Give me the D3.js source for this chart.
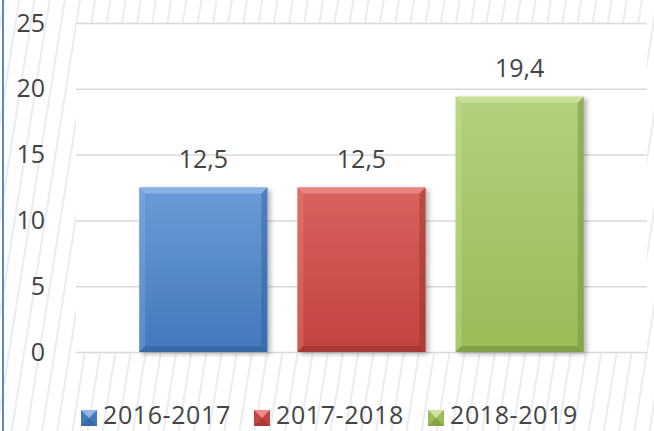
<!DOCTYPE html>
<html>
<head>
<meta charset="utf-8">
<script src="https://cdn.jsdelivr.net/npm/d3@7"></script>
<style>
  html, body { margin: 0; padding: 0; background: #fff; }
  svg { display: block; font-family: "Open Sans", sans-serif; }
</style>
</head>
<body>
<svg id="chart"></svg>
<script>
const W = 654, H = 431;
const margin = { top: 23, right: 7, bottom: 79, left: 76 };
const innerW = W - margin.left - margin.right;
const innerH = H - margin.top - margin.bottom;

// data
const seasons = ["2016-2017", "2017-2018", "2018-2019"];
const values = [12.5, 12.5, 19.4];
const yTicks = [0, 5, 10, 15, 20, 25];

const COLORS = {
    "2016-2017": { top: "#6a9bd8", bottom: "#4478bb", light: "#8fb6e8", dark: "#2f5e98" },
    "2017-2018": { top: "#d8625e", bottom: "#c2433f", light: "#ec8a86", dark: "#93302d" },
    "2018-2019": { top: "#b3d07c", bottom: "#9abb57", light: "#cde39f", dark: "#6f8a38" }
};

const svg = d3.select("#chart")
    .attr("width", W)
    .attr("height", H)
    .attr("viewBox", `0 0 ${W} ${H}`);

const defs = svg.append("defs");

// diagonal hatch behind everything
const pat = defs.append("pattern")
    .attr("id", "hatch")
    .attr("patternUnits", "userSpaceOnUse")
    .attr("width", 15)
    .attr("height", 40)
    .attr("patternTransform", "rotate(9)");
pat.append("line")
    .attr("x1", 4).attr("y1", 0)
    .attr("x2", 4).attr("y2", 40)
    .attr("stroke", "#e1e4ea")
    .attr("stroke-width", 1.4);

seasons.forEach((s, i) => {
    const c = COLORS[s];
    const gr = defs.append("linearGradient")
        .attr("id", "grad" + i)
        .attr("x1", 0).attr("y1", 0).attr("x2", 0).attr("y2", 1);
    gr.append("stop").attr("offset", "0%").attr("stop-color", c.top);
    gr.append("stop").attr("offset", "100%").attr("stop-color", c.bottom);
});

const shadow = defs.append("filter")
    .attr("id", "shadow")
    .attr("x", "-10%").attr("y", "-10%")
    .attr("width", "130%").attr("height", "130%");
shadow.append("feDropShadow")
    .attr("dx", 3).attr("dy", 2)
    .attr("stdDeviation", 2.5)
    .attr("flood-color", "#000")
    .attr("flood-opacity", 0.3);

svg.append("rect")
    .attr("width", W).attr("height", H)
    .attr("fill", "url(#hatch)");

// left border
svg.append("line")
    .attr("x1", 3).attr("x2", 3)
    .attr("y1", 0).attr("y2", H)
    .attr("stroke", "#5b88c4")
    .attr("stroke-width", 2);

const g = svg.append("g")
    .attr("transform", `translate(${margin.left},${margin.top})`);

g.append("rect")
    .attr("width", innerW)
    .attr("height", innerH)
    .attr("fill", "#fff");

const x = d3.scaleBand()
    .domain(seasons)
    .range([0, innerW])
    .paddingInner(0.19)
    .paddingOuter(0.4);

const y = d3.scaleLinear()
    .domain([0, 25])
    .range([innerH, 0]);

// Grid Y
g.append("g")
    .attr("class", "grid")
    .call(d3.axisLeft(y).tickValues(yTicks).tickSize(-innerW).tickFormat(""))
    .call(s => s.select(".domain").remove())
    .call(s => s.selectAll("line").attr("stroke", "#d9d9d9").attr("stroke-width", 1.5));

// Axis Y labels
g.append("g")
    .call(d3.axisLeft(y).tickValues(yTicks).tickSize(0).tickPadding(31))
    .call(s => s.select(".domain").remove())
    .call(s => s.selectAll("text")
        .attr("fill", "#444")
        .style("font-size", "25px")
        .style("font-family", "'Open Sans', sans-serif"));

// bars with bevel
const fmt = d => String(d).replace(".", ",");
const bevel = 6;

const bars = g.selectAll(".bar")
    .data(seasons.map((s, i) => ({ s, v: values[i], i })))
    .enter()
    .append("g")
    .attr("class", "bar");

bars.append("rect")
    .attr("x", d => x(d.s))
    .attr("y", d => y(d.v))
    .attr("width", x.bandwidth())
    .attr("height", d => innerH - y(d.v))
    .attr("fill", d => `url(#grad${d.i})`)
    .attr("filter", "url(#shadow)");

bars.each(function (d) {
    const x0 = x(d.s), x1 = x0 + x.bandwidth();
    const y0 = y(d.v), y1 = y(0);
    const c = COLORS[d.s];
    const b = d3.select(this);
    // top
    b.append("path")
        .attr("d", `M${x0},${y0}L${x1},${y0}L${x1 - bevel},${y0 + bevel}L${x0 + bevel},${y0 + bevel}Z`)
        .attr("fill", c.light).attr("opacity", 0.85);
    // left
    b.append("path")
        .attr("d", `M${x0},${y0}L${x0 + bevel},${y0 + bevel}L${x0 + bevel},${y1 - bevel}L${x0},${y1}Z`)
        .attr("fill", c.light).attr("opacity", 0.3);
    // right
    b.append("path")
        .attr("d", `M${x1},${y0}L${x1},${y1}L${x1 - bevel},${y1 - bevel}L${x1 - bevel},${y0 + bevel}Z`)
        .attr("fill", c.dark).attr("opacity", 0.45);
    // bottom
    b.append("path")
        .attr("d", `M${x0},${y1}L${x0 + bevel},${y1 - bevel}L${x1 - bevel},${y1 - bevel}L${x1},${y1}Z`)
        .attr("fill", c.dark).attr("opacity", 0.55);
});

// value labels
bars.append("text")
    .attr("x", d => x(d.s) + x.bandwidth() / 2)
    .attr("y", d => y(d.v) - 20)
    .attr("text-anchor", "middle")
    .attr("fill", "#444")
    .style("font-size", "25px")
    .text(d => fmt(d.v));

// legend
const legendX = [81, 254, 428];
const legend = svg.append("g");
seasons.forEach((s, i) => {
    const c = COLORS[s];
    const item = legend.append("g")
        .attr("transform", `translate(${legendX[i]},410)`);
    item.append("rect")
        .attr("width", 16).attr("height", 16)
        .attr("fill", c.bottom);
    item.append("path")
        .attr("d", "M0,0L16,0L8,8Z")
        .attr("fill", c.light);
    item.append("path")
        .attr("d", "M0,16L16,16L8,8Z")
        .attr("fill", c.dark).attr("opacity", 0.5);
    item.append("text")
        .attr("x", 22)
        .attr("y", 14)
        .attr("fill", "#444")
        .style("font-size", "25px")
        .style("letter-spacing", "0.6px")
        .text(s);
});
</script>
</body>
</html>
